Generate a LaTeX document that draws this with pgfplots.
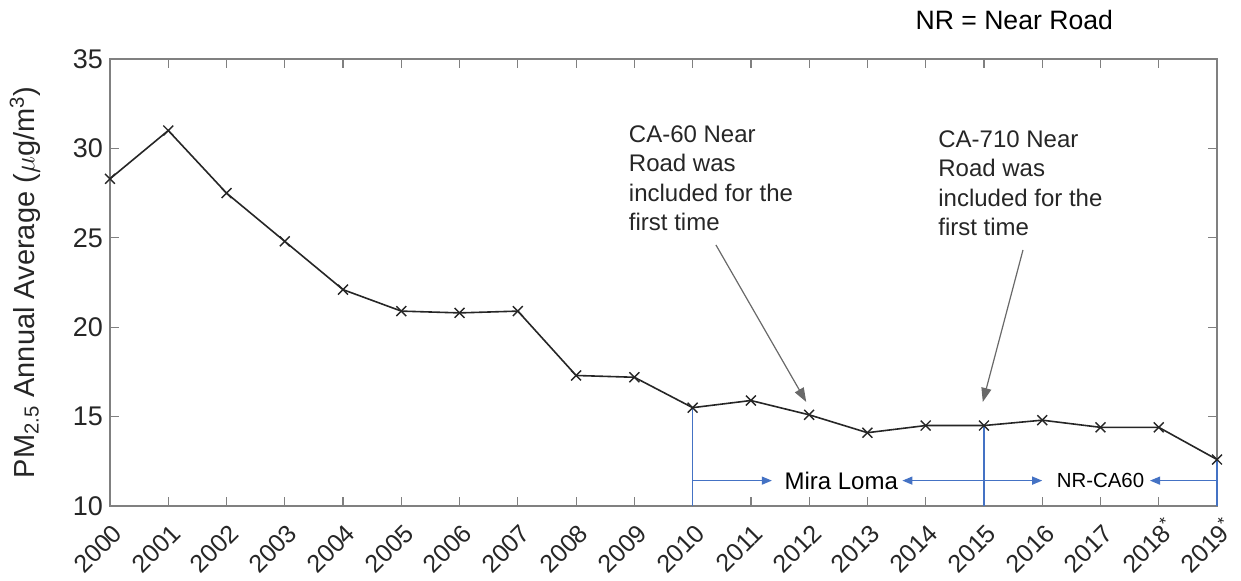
\documentclass[border=0pt]{standalone}
\usepackage{fontspec}
\setmainfont{Liberation Sans}
\usepackage{pgfplots}
\pgfplotsset{compat=1.18}
\usetikzlibrary{arrows.meta,calc}
\definecolor{axgray}{RGB}{128,128,128}
\definecolor{txtgray}{RGB}{38,38,38}
\definecolor{linec}{RGB}{38,38,38}
\definecolor{annog}{RGB}{105,105,105}
\definecolor{blu}{RGB}{68,114,196}
\begin{document}
\begin{tikzpicture}
\begin{axis}[
  name=ax,
  scale only axis,
  width=553.5pt, height=223.5pt,
  xmin=2000, xmax=2019, ymin=10, ymax=35,
  xtick={2000,2001,2002,2003,2004,2005,2006,2007,2008,2009,2010,2011,2012,2013,2014,2015,2016,2017,2018,2019},
  xticklabels={2000,2001,2002,2003,2004,2005,2006,2007,2008,2009,2010,2011,2012,2013,2014,2015,2016,2017,{2018\rlap{\smash{\textsuperscript{*}}}},{2019\rlap{\smash{\textsuperscript{*}}}}},
  ytick={10,15,20,25,30,35},
  tick align=inside,
  major tick length=4.5pt,
  axis line style={axgray, line width=0.75pt},
  every tick/.style={axgray, line width=0.6pt},
  tick label style={font=\fontsize{13.5}{16}\selectfont, text=txtgray},
  /pgf/number format/assume math mode=true,
  xticklabel style={font=\fontsize{12.5}{15}\selectfont, rotate=45, anchor=east, inner sep=0pt, xshift=-5.3pt, yshift=-10.9pt},
  ylabel={PM\textsubscript{2.5} Annual Average ($\mu$g/m\textsuperscript{3})},
  ylabel style={font=\fontsize{14.5}{17}\selectfont, text=txtgray, at={(axis description cs:-0.0768,0.5)}, anchor=center},
  clip=false,
]
\addplot[linec, line width=0.8pt, mark=x, mark size=3.5pt, mark options={line width=0.7pt}] coordinates {
(2000,28.3) (2001,31.0) (2002,27.5) (2003,24.8) (2004,22.1) (2005,20.9) (2006,20.8) (2007,20.9) (2008,17.3) (2009,17.2)
(2010,15.5) (2011,15.9) (2012,15.1) (2013,14.1) (2014,14.5) (2015,14.5) (2016,14.8) (2017,14.4) (2018,14.4) (2019,12.6)
};
% blue markers of the site periods
\draw[blu, line width=0.6pt] (axis cs:2010,10) -- (axis cs:2010,15.5);
\draw[blu, line width=0.6pt] (axis cs:2015,10) -- (axis cs:2015,14.5);
\draw[blu, line width=0.6pt] (axis cs:2019,10) -- (axis cs:2019,12.6);
\draw[blu, line width=0.6pt, -{Triangle[length=5pt,width=4pt]}] (axis cs:2010,11.42) -- (axis cs:2011.36,11.42);
\draw[blu, line width=0.6pt, -{Triangle[length=5pt,width=4pt]}] (axis cs:2015,11.42) -- (axis cs:2013.6,11.42);
\draw[blu, line width=0.6pt, -{Triangle[length=5pt,width=4pt]}] (axis cs:2015,11.42) -- (axis cs:2016.0,11.42);
\draw[blu, line width=0.6pt, -{Triangle[length=5pt,width=4pt]}] (axis cs:2019,11.42) -- (axis cs:2017.85,11.42);
\node[font=\fontsize{12}{14}\selectfont, text=black, inner sep=0pt] at (axis cs:2012.55,11.42) {Mira Loma};
\node[font=\fontsize{10.2}{12}\selectfont, text=black, inner sep=0pt] at (axis cs:2017.0,11.42) {NR-CA60};
% annotations
\node[font=\fontsize{12}{14.75}\selectfont, text=txtgray, align=left, anchor=north west, inner sep=0pt] at (axis cs:2008.9,31.31) {CA-60 Near\\Road was\\included for the\\first time};
\node[font=\fontsize{12}{14.75}\selectfont, text=txtgray, align=left, anchor=north west, inner sep=0pt] at (axis cs:2014.21,31.03) {CA-710 Near\\Road was\\included for the\\first time};
\draw[annog, line width=0.6pt, -{Triangle[length=7pt,width=5pt]}] (axis cs:2010.40,24.60) -- (axis cs:2011.95,15.82);
\draw[annog, line width=0.6pt, -{Triangle[length=7pt,width=5pt]}] (axis cs:2015.67,24.32) -- (axis cs:2014.98,15.82);
\node[font=\fontsize{13.3}{16}\selectfont, text=black, inner sep=0pt] at (axis cs:2015.52,37.18) {NR = Near Road};
\end{axis}
\pgfresetboundingbox
\path ($(ax.south west)+(-55pt,-37pt)$) rectangle ($(ax.north east)+(12pt,29.5pt)$);
\end{tikzpicture}
\end{document}
